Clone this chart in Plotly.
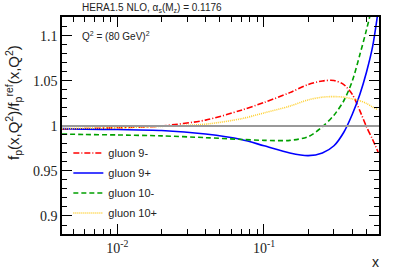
import plotly.graph_objects as go

x = [0.0042, 0.006, 0.01, 0.02, 0.04, 0.07, 0.1, 0.15, 0.2, 0.25, 0.3, 0.35, 0.4, 0.45, 0.5, 0.55, 0.6]
gluon_9m = [0.9963, 0.997, 0.998, 1.000, 1.0065, 1.0175, 1.026, 1.037, 1.046, 1.050, 1.0505, 1.046, 1.035, 1.017, 0.999, 0.985, 0.971]
gluon_9p = [0.997, 0.9965, 0.996, 0.995, 0.991, 0.985, 0.978, 0.970, 0.967, 0.970, 0.978, 0.993, 1.013, 1.035, 1.060, 1.088, 1.128]
gluon_10m = [0.991, 0.9905, 0.990, 0.989, 0.987, 0.985, 0.984, 0.984, 0.988, 0.999, 1.012, 1.028, 1.050, 1.079, 1.107, 1.135, 1.165]
gluon_10p = [0.997, 0.9975, 0.998, 0.9995, 1.002, 1.008, 1.0145, 1.022, 1.029, 1.032, 1.0326, 1.032, 1.030, 1.028, 1.025, 1.021, 1.018]

series = [
    ("gluon 9-", gluon_9m, "#ff0000", "6px,2px,1px,2px"),
    ("gluon 9+", gluon_9p, "#0000ff", "solid"),
    ("gluon 10-", gluon_10m, "#00a000", "5px,3px"),
    ("gluon 10+", gluon_10p, "#ffd030", "1px,1px"),
]

major_x = [0.01, 0.1]
major_x_text = ["10<sup>-2</sup>", "10<sup>-1</sup>"]
minor_x = [0.005, 0.006, 0.007, 0.008, 0.009, 0.02, 0.03, 0.04, 0.05, 0.06, 0.07, 0.08, 0.09, 0.2, 0.3, 0.4, 0.5, 0.6]
y_ticks = [0.9, 0.95, 1.0, 1.05, 1.1]
y_tick_text = ["0.9", "0.95", "1", "1.05", "1.1"]

fig = go.Figure()
fig.add_hline(y=1.0, line=dict(color="#999999", width=2))
for i, (name, vals, col, dash) in enumerate(series):
    fig.add_trace(go.Scatter(x=x, y=vals, mode="lines", name=name, legendgroup=str(i),
                             line=dict(color=col, dash=dash, width=1.6, shape="spline", smoothing=0.8)))

serif = "Liberation Serif"
sans = "Liberation Sans"
fig.update_layout(
    width=399, height=270,
    margin=dict(l=62, r=20, t=17, b=36),
    plot_bgcolor="white", paper_bgcolor="white",
    showlegend=True,
    legend=dict(x=0.02, y=0.44, xanchor="left", yanchor="top", bgcolor="rgba(0,0,0,0)",
                font=dict(family=sans, size=11, color="#222"), itemwidth=30, tracegroupgap=1),
    xaxis=dict(type="log", range=[-2.377, -0.216], tickvals=major_x, ticktext=major_x_text,
               ticks="inside", ticklen=10, tickwidth=1.2, tickcolor="black",
               showline=True, linecolor="black", linewidth=1.6, mirror="allticks",
               showgrid=False, zeroline=False,
               tickfont=dict(family=serif, size=14, color="#222"),
               minor=dict(tickvals=minor_x, ticks="inside", ticklen=5, tickwidth=1.2, tickcolor="black", showgrid=False)),
    yaxis=dict(range=[0.88, 1.121], tickvals=y_ticks, ticktext=y_tick_text,
               ticks="inside", ticklen=10, tickwidth=1.2, tickcolor="black",
               showline=True, linecolor="black", linewidth=1.6, mirror="allticks",
               showgrid=False, zeroline=False,
               tickfont=dict(family=serif, size=14, color="#222"),
               minor=dict(dtick=0.01, ticks="inside", ticklen=5, tickwidth=1.2, tickcolor="black", showgrid=False)),
)

fig.add_annotation(text="HERA1.5 NLO, α<sub>s</sub>(M<sub>z</sub>) = 0.1176", xref="paper", yref="paper",
                   x=(80 - 62) / 317, y=(234 - 8) / 217, xanchor="left", yanchor="middle",
                   showarrow=False, font=dict(family=sans, size=10, color="#222"))
fig.add_annotation(text="Q<sup>2</sup> = (80 GeV)<sup>2</sup>", xref="paper", yref="paper",
                   x=(80 - 62) / 317, y=(234 - 36) / 217, xanchor="left", yanchor="middle",
                   showarrow=False, font=dict(family=sans, size=10, color="#222"))
fig.add_annotation(text="f<sub>p</sub>(x,Q<sup>2</sup>)/f<sub>p</sub><sup>ref</sup>(x,Q<sup>2</sup>)", xref="paper", yref="paper",
                   x=(14 - 62) / 317, y=(234 - 103) / 217, xanchor="center", yanchor="middle", textangle=-90,
                   showarrow=False, font=dict(family=sans, size=15, color="#222"))
fig.add_annotation(text="x", xref="paper", yref="paper",
                   x=(375 - 62) / 317, y=(234 - 262) / 217, xanchor="center", yanchor="middle",
                   showarrow=False, font=dict(family=sans, size=14, color="#222"))

fig.write_html("out.html", config={"displayModeBar": False},
               post_script="document.body.style.margin='0';document.body.style.overflow='hidden';")
